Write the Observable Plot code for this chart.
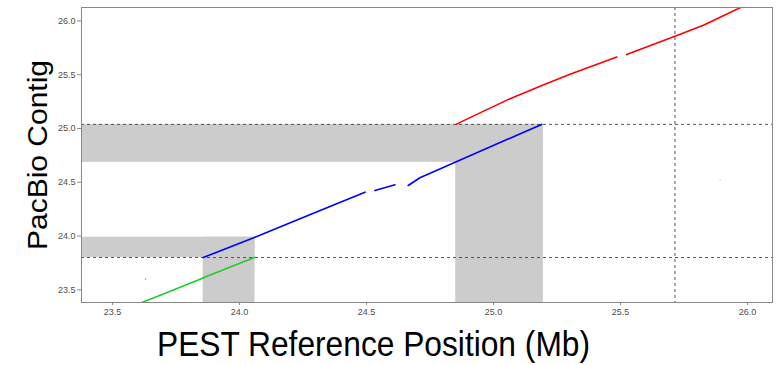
<!DOCTYPE html>
<html>
<head>
<meta charset="utf-8">
<script src="https://cdn.jsdelivr.net/npm/d3@7"></script>
<script src="https://cdn.jsdelivr.net/npm/@observablehq/plot@0.6"></script>
<style>
  html, body { margin: 0; padding: 0; background: #fff; }
  #chart { width: 781px; height: 365px; }
</style>
</head>
<body>
<div id="chart"></div>
<script>
// Axis ranges (Mb)
const xDomain = [23.378, 26.098];
const yDomain = [23.382, 26.125];
const xTicks = [23.5, 24.0, 24.5, 25.0, 25.5, 26.0];
const yTicks = [23.5, 24.0, 24.5, 25.0, 25.5, 26.0];

// Alignment segments: PEST position, PacBio position, segment id
const greenX = [23.60, 23.641, 23.857, 23.857, 24.061];
const greenY = [23.368, 23.406, 23.609, 23.613, 23.803];
const greenSeg = [0, 0, 0, 1, 1];

const blueX = [23.857, 24.061, 24.238, 24.356, 24.494, 24.533, 24.612, 24.664, 24.710, 25.189];
const blueY = [23.800, 23.989, 24.160, 24.275, 24.408, 24.424, 24.477, 24.470, 24.542, 25.038];
const blueSeg = [0, 0, 0, 0, 0, 1, 1, 2, 2, 2];

const redX = [24.852, 24.959, 25.065, 25.183, 25.301, 25.485, 25.524, 25.714, 25.826, 25.990];
const redY = [25.038, 25.159, 25.277, 25.392, 25.504, 25.665, 25.687, 25.858, 25.960, 26.145];
const redSeg = [0, 0, 0, 0, 0, 0, 1, 1, 1, 1];

// Stray single hits
const dotX = [23.630, 25.892];
const dotY = [23.601, 24.524];
const dotColor = ["#33cc33", "#ccccff"];

// Shaded gap regions (x1, x2, y1, y2)
const bandX1 = [23.30, 24.851, 23.30, 23.857];
const bandX2 = [25.196, 25.196, 24.061, 24.061];
const bandY1 = [24.685, 23.30, 23.800, 23.30];
const bandY2 = [25.038, 25.038, 23.989, 23.989];

// Boundary guides
const hLines = [23.800, 25.038];
const vLines = [25.714];

const toRows = (xs, ys, seg) => xs.map((x, i) => ({x, y: ys[i], s: seg[i]}));
const bands = bandX1.map((x1, i) => ({x1, x2: bandX2[i], y1: bandY1[i], y2: bandY2[i]}));
const dots = dotX.map((x, i) => ({x, y: dotY[i], c: dotColor[i]}));

const plot = Plot.plot({
  width: 781,
  height: 365,
  marginLeft: 81,
  marginRight: 9,
  marginTop: 7,
  marginBottom: 63,
  style: {fontFamily: "Liberation Sans, Arial, sans-serif", background: "#fff"},
  x: {domain: xDomain},
  y: {domain: yDomain},
  marks: [
    Plot.rect(bands, {x1: "x1", x2: "x2", y1: "y1", y2: "y2", fill: "#cccccc", clip: true}),
    Plot.ruleY(hLines, {stroke: "#555", strokeWidth: 1, strokeDasharray: "3,3", clip: true}),
    Plot.ruleX(vLines, {stroke: "#555", strokeWidth: 1, strokeDasharray: "3,3", clip: true}),
    Plot.line(toRows(greenX, greenY, greenSeg), {x: "x", y: "y", z: "s", stroke: "#22cc22", strokeWidth: 1.6, clip: true}),
    Plot.line(toRows(blueX, blueY, blueSeg), {x: "x", y: "y", z: "s", stroke: "#0000ff", strokeWidth: 1.6, clip: true}),
    Plot.line(toRows(redX, redY, redSeg), {x: "x", y: "y", z: "s", stroke: "#ff0000", strokeWidth: 1.6, clip: true}),
    Plot.dot(dots, {x: "x", y: "y", r: 0.8, fill: "c", stroke: null}),
    Plot.frame({stroke: "#888", strokeWidth: 1}),
    Plot.axisX({ticks: xTicks, tickFormat: d3.format(".1f"), tickSize: 3, tickPadding: 3, label: null, fontSize: 9, color: "#4d4d4d", stroke: "#888"}),
    Plot.axisY({ticks: yTicks, tickFormat: d3.format(".1f"), tickSize: 4, tickPadding: 2, label: null, fontSize: 9, color: "#4d4d4d", stroke: "#888"})
  ]
});

const svg = d3.select(plot);
svg.append("text")
  .attr("x", 373.5).attr("y", 356)
  .attr("text-anchor", "middle")
  .attr("font-family", "Liberation Sans, Arial, sans-serif")
  .attr("font-size", 35)
  .attr("textLength", 433)
  .attr("lengthAdjust", "spacingAndGlyphs")
  .attr("fill", "#000")
  .text("PEST Reference Position (Mb)");
svg.append("text")
  .attr("transform", "translate(47,155) rotate(-90)")
  .attr("text-anchor", "middle")
  .attr("font-family", "Liberation Sans, Arial, sans-serif")
  .attr("font-size", 28)
  .attr("textLength", 190)
  .attr("lengthAdjust", "spacingAndGlyphs")
  .attr("fill", "#000")
  .text("PacBio Contig");

document.getElementById("chart").appendChild(plot);
</script>
</body>
</html>
